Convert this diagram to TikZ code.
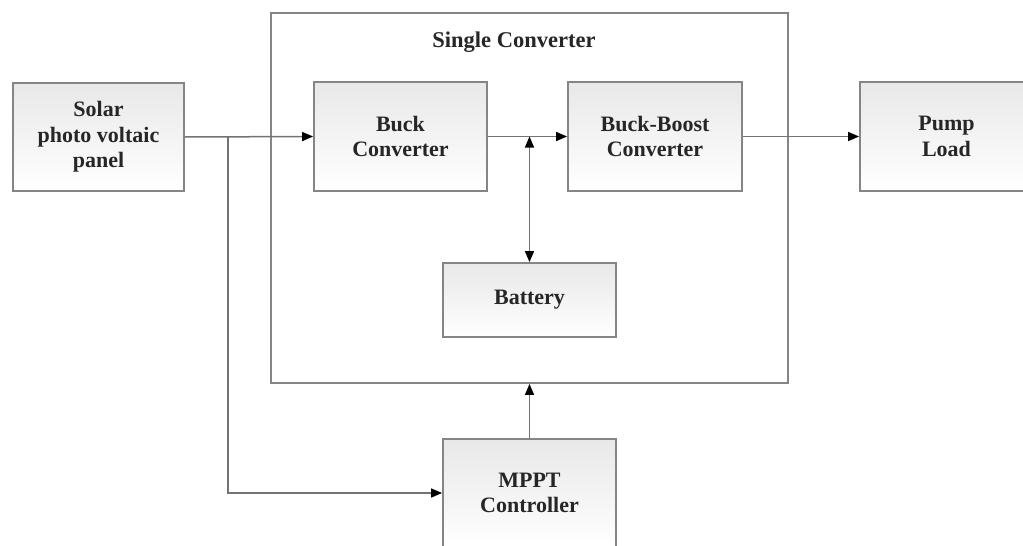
\documentclass[tikz,border=0pt]{standalone}
\usepackage{fontspec}
\setmainfont{Liberation Serif}[BoldFont={Liberation Serif Bold}]
\usetikzlibrary{arrows.meta}
\begin{document}
\begin{tikzpicture}[x=1pt,y=-1pt,
  blk/.style={draw=black!48, line width=1.8pt, top color=black!9, bottom color=white,
    inner sep=0pt, align=center, text=black!85,
    font=\fontsize{22}{25.5}\selectfont\bfseries},
  outerbox/.style={draw=black!48, line width=1.8pt, fill=white, inner sep=0pt},
  conn/.style={draw=black!55, line width=1.5pt},
  tip/.style={-{Triangle[length=11pt,width=9pt,color=black]}},
  dtip/.style={{Triangle[length=11pt,width=9pt,color=black]}-{Triangle[length=11pt,width=9pt,color=black]}}
]
\useasboundingbox (0,0) rectangle (1023,546);
\fill[white] (0,0) rectangle (1023,546);
% big container
\node[outerbox, minimum width=517pt, minimum height=370pt] (big) at (529.5,198) {};
\node[font=\fontsize{22.5}{25}\selectfont\bfseries, text=black!85] (title) at (514,42) {Single Converter};
% blocks
\node[blk, minimum width=171pt, minimum height=108pt] (solar) at (98.5,137) {Solar\\photo voltaic\\panel};
\node[blk, minimum width=173pt, minimum height=109pt] (buck) at (400.5,136.5) {Buck\\Converter};
\node[blk, minimum width=174pt, minimum height=109pt] (bb) at (655,136.5) {Buck-Boost\\Converter};
\node[blk, minimum width=173pt, minimum height=109pt] (pump) at (946.5,136.5) {Pump\\Load};
\node[blk, minimum width=173pt, minimum height=74pt] (bat) at (529.5,300) {Battery};
\node[blk, minimum width=173pt, minimum height=108pt] (mppt) at (529.5,493) {MPPT\\Controller};
\coordinate (j) at (228,137);
% connectors
\draw[conn, tip] (solar.east) -- (buck.west);
\draw[conn, tip] (j) |- (mppt.west);
\draw[conn, tip] (buck.east) -- (bb.west);
\draw[conn, dtip] (bat.north) -- (bat.north |- buck.east);
\draw[conn, tip] (bb.east) -- (pump.west);
\draw[conn, tip] (mppt.north) -- (mppt.north |- big.south);
\end{tikzpicture}
\end{document}
